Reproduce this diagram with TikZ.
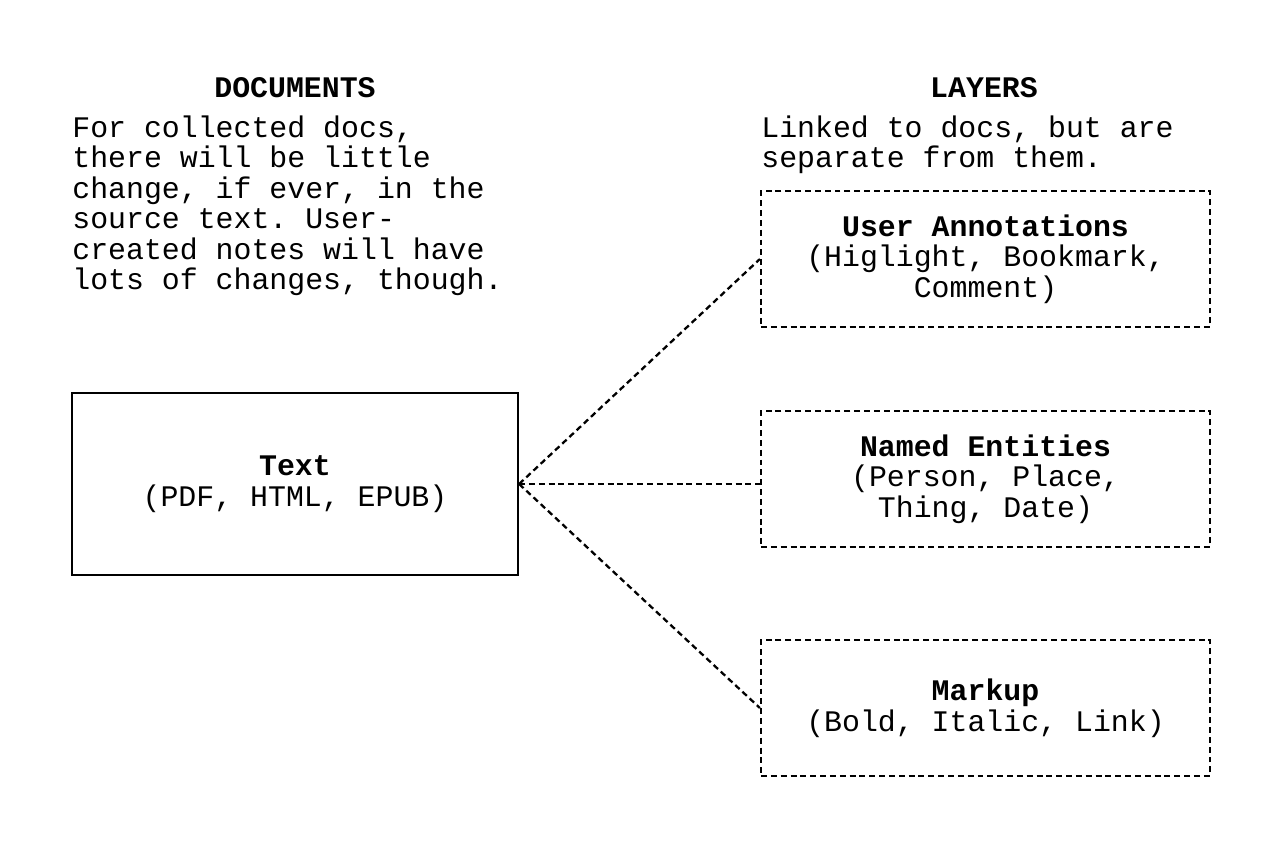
\documentclass[tikz,border=0pt]{standalone}
\usepackage{fontspec}
\setmonofont{Liberation Mono}
\usetikzlibrary{positioning}

\begin{document}
\begin{tikzpicture}[x=0.02cm, y=-0.02cm,
    every node/.style={font=\ttfamily\fontsize{17}{17.4}\selectfont},
    heading/.style={font=\ttfamily\bfseries\fontsize{17}{17.4}\selectfont},
    note/.style={anchor=north west, inner sep=0pt, align=left},
    docbox/.style={draw, line width=1.3pt, minimum width=8.92cm, minimum height=3.64cm, align=center},
    layerbox/.style={draw, dash pattern=on 3.4pt off 2.2pt, line width=1.3pt, minimum width=8.98cm, minimum height=2.72cm, align=center},
    link/.style={dash pattern=on 3.4pt off 2.2pt, line width=1.3pt}]
    \useasboundingbox (0,0) rectangle (1280,853);
    % left column
    \node[heading] (dochead) at (295,88) {DOCUMENTS};
    \node[note] (docnote) at (72,115) {For collected docs,\\there will be little\\change, if ever, in the\\source text. User-\\created notes will have\\lots of changes, though.};
    \node[docbox] (text) at (295,484) {\textbf{Text}\\(PDF, HTML, EPUB)};
    % right column
    \node[heading] (layhead) at (984,88) {LAYERS};
    \node[note] (laynote) at (761,115) {Linked to docs, but are\\separate from them.};
    \node[layerbox] (annot) at (985.5,259) {\textbf{User Annotations}\\(Higlight, Bookmark,\\Comment)};
    \node[layerbox] (named) at (985.5,479) {\textbf{Named Entities}\\(Person, Place,\\Thing, Date)};
    \node[layerbox] (markup) at (985.5,708) {\textbf{Markup}\\(Bold, Italic, Link)};
    \draw[link] (text.east) -- (annot.west);
    \draw[link] (text.east) -- (text.east -| named.west);
    \draw[link] (text.east) -- (markup.west);
\end{tikzpicture}
\end{document}
